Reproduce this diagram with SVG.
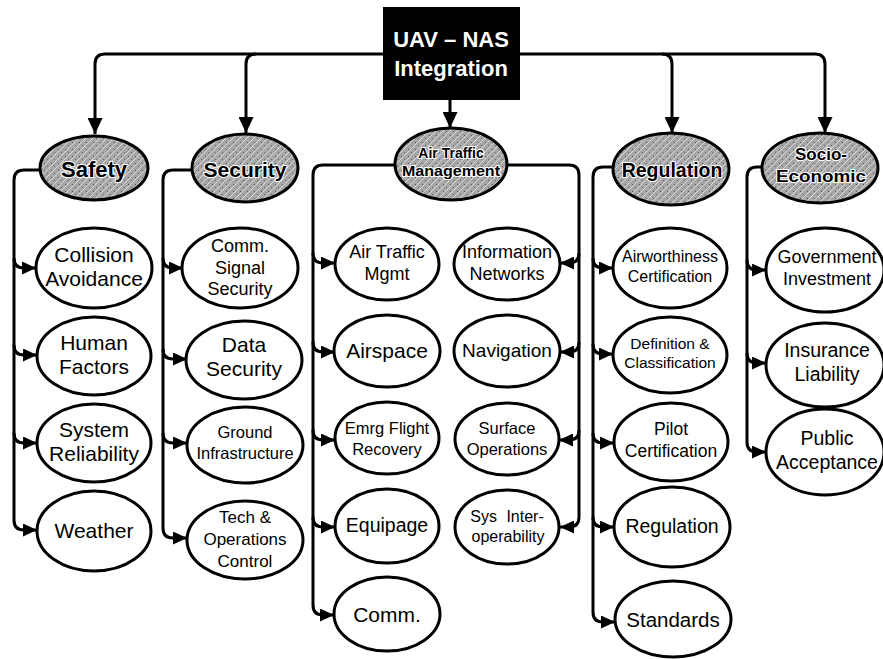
<svg xmlns="http://www.w3.org/2000/svg" width="883" height="659" viewBox="0 0 883 659">
<style>
.n{fill:#fff;stroke:#000;stroke-width:3}
.c{fill:url(#tex);stroke:#000;stroke-width:3}
.t{font-family:"Liberation Sans",Arial,sans-serif;fill:#000;text-anchor:middle}
.ct{font-family:"Liberation Sans",Arial,sans-serif;font-weight:bold;fill:#000;text-anchor:middle;stroke:#fff;stroke-width:2.2;paint-order:stroke;stroke-linejoin:round}
.w{font-family:"Liberation Sans",Arial,sans-serif;font-weight:bold;fill:#fff;text-anchor:middle;font-size:22px}
.l{fill:none;stroke:#000;stroke-width:3}
</style>
<defs>
<pattern id="tex" width="7" height="7" patternUnits="userSpaceOnUse">
<rect width="7" height="7" fill="#a6a6a6"/>
<path d="M0,7 L7,0" stroke="#d9d9d9" stroke-width="1"/>
<rect x="2" y="2" width="1" height="1" fill="#555"/>
<rect x="5" y="5" width="1" height="1" fill="#666"/>
</pattern>
<marker id="a" viewBox="0 0 14 13" refX="14" refY="6.5" markerWidth="14" markerHeight="13" markerUnits="userSpaceOnUse" orient="auto">
<path d="M0,0 L14,6.5 L0,13 z" fill="#000"/>
</marker>
<marker id="b" viewBox="0 0 16 15" refX="16" refY="7.5" markerWidth="16" markerHeight="15" markerUnits="userSpaceOnUse" orient="auto">
<path d="M0,0 L16,7.5 L0,15 z" fill="#000"/>
</marker>
</defs>

<g id="connectors">
<path class="l" d="M383,54 H105 Q95,54 95,64 V134" marker-end="url(#b)"/>
<path class="l" d="M256,54 Q246,54 246,64 V133" marker-end="url(#b)"/>
<path class="l" d="M450,100 V128" marker-end="url(#b)"/>
<path class="l" d="M520,54 H815 Q825,54 825,64 V133" marker-end="url(#b)"/>
<path class="l" d="M662,54 Q672,54 672,64 V133" marker-end="url(#b)"/>
<path class="l" d="M40,170 H24 Q14,170 14,180 V520 Q14,530 24,530 H37" marker-end="url(#a)"/>
<path class="l" d="M14,258 Q14,268 24,268 H36" marker-end="url(#a)"/>
<path class="l" d="M14,345 Q14,355 24,355 H37" marker-end="url(#a)"/>
<path class="l" d="M14,433 Q14,443 24,443 H37" marker-end="url(#a)"/>
<path class="l" d="M191,170 H173 Q163,170 163,180 V528 Q163,538 173,538 H187" marker-end="url(#a)"/>
<path class="l" d="M163,258 Q163,268 173,268 H183" marker-end="url(#a)"/>
<path class="l" d="M163,349 Q163,359 173,359 H187" marker-end="url(#a)"/>
<path class="l" d="M163,433 Q163,443 173,443 H187" marker-end="url(#a)"/>
<path class="l" d="M395,165 H323 Q313,165 313,175 V605 Q313,615 323,615 H334" marker-end="url(#a)"/>
<path class="l" d="M313,253 Q313,263 323,263 H335" marker-end="url(#a)"/>
<path class="l" d="M313,342 Q313,352 323,352 H335" marker-end="url(#a)"/>
<path class="l" d="M313,430 Q313,440 323,440 H335" marker-end="url(#a)"/>
<path class="l" d="M313,517 Q313,527 323,527 H335" marker-end="url(#a)"/>
<path class="l" d="M507,165 H569 Q579,165 579,175 V517 Q579,527 569,527 H560" marker-end="url(#a)"/>
<path class="l" d="M579,253 Q579,263 569,263 H560" marker-end="url(#a)"/>
<path class="l" d="M579,342 Q579,352 569,352 H560" marker-end="url(#a)"/>
<path class="l" d="M579,430 Q579,440 569,440 H559" marker-end="url(#a)"/>
<path class="l" d="M614,167 H603 Q593,167 593,177 V612 Q593,622 603,622 H615" marker-end="url(#a)"/>
<path class="l" d="M593,258 Q593,268 603,268 H613" marker-end="url(#a)"/>
<path class="l" d="M593,344 Q593,354 603,354 H613" marker-end="url(#a)"/>
<path class="l" d="M593,433 Q593,443 603,443 H614" marker-end="url(#a)"/>
<path class="l" d="M593,517 Q593,527 603,527 H614" marker-end="url(#a)"/>
<path class="l" d="M763,167 H757 Q747,167 747,177 V442 Q747,452 757,452 H766" marker-end="url(#a)"/>
<path class="l" d="M747,260 Q747,270 757,270 H766" marker-end="url(#a)"/>
<path class="l" d="M747,353 Q747,363 757,363 H766" marker-end="url(#a)"/>
</g>

<g id="root">
<rect x="383" y="7" width="137" height="93" fill="#000"/>
<text class="w" x="451" y="47">UAV – NAS</text>
<text class="w" x="451" y="76">Integration</text>
</g>

<g id="safety">
<ellipse class="c" cx="94" cy="168" rx="54" ry="32"/>
<text class="ct" x="94" y="177" font-size="22">Safety</text>
</g>
<g id="security">
<ellipse class="c" cx="245" cy="168" rx="53" ry="34"/>
<text class="ct" x="245" y="177" font-size="21">Security</text>
</g>
<g id="atm">
<ellipse class="c" cx="451" cy="164" rx="56" ry="36"/>
<text class="ct" x="451" y="158" font-size="14">Air Traffic</text>
<text class="ct" x="451" y="176" font-size="14" textLength="98" lengthAdjust="spacingAndGlyphs">Management</text>
</g>
<g id="regulation">
<ellipse class="c" cx="671" cy="169" rx="58" ry="36"/>
<text class="ct" x="672" y="177" font-size="19.5">Regulation</text>
</g>
<g id="socio">
<ellipse class="c" cx="820" cy="168" rx="58" ry="35"/>
<text class="ct" x="821" y="160" font-size="17">Socio-</text>
<text class="ct" x="821" y="182" font-size="17" textLength="90" lengthAdjust="spacingAndGlyphs">Economic</text>
</g>

<g id="collision">
<ellipse class="n" cx="94" cy="268" rx="58" ry="40"/>
<text class="t" font-size="21"><tspan x="94" y="262">Collision</tspan><tspan x="94" y="286">Avoidance</tspan></text>
</g>
<g id="human">
<ellipse class="n" cx="94" cy="356" rx="57" ry="39"/>
<text class="t" font-size="21"><tspan x="94" y="350">Human</tspan><tspan x="94" y="374">Factors</tspan></text>
</g>
<g id="system">
<ellipse class="n" cx="94" cy="443" rx="57" ry="39"/>
<text class="t" font-size="21"><tspan x="94" y="437">System</tspan><tspan x="94" y="461">Reliability</tspan></text>
</g>
<g id="weather">
<ellipse class="n" cx="94" cy="531" rx="57" ry="40"/>
<text class="t" font-size="21" x="94" y="538">Weather</text>
</g>

<g id="comm-signal">
<ellipse class="n" cx="240" cy="268" rx="58" ry="40"/>
<text class="t" font-size="18"><tspan x="240" y="252">Comm.</tspan><tspan x="240" y="274">Signal</tspan><tspan x="240" y="295">Security</tspan></text>
</g>
<g id="data">
<ellipse class="n" cx="244" cy="360" rx="58" ry="39"/>
<text class="t" font-size="21"><tspan x="244" y="352">Data</tspan><tspan x="244" y="376">Security</tspan></text>
</g>
<g id="ground">
<ellipse class="n" cx="245" cy="445" rx="58" ry="38"/>
<text class="t" font-size="16.5"><tspan x="245" y="438">Ground</tspan><tspan x="245" y="459">Infrastructure</tspan></text>
</g>
<g id="tech">
<ellipse class="n" cx="245" cy="540" rx="58" ry="39"/>
<text class="t" font-size="17"><tspan x="245" y="523">Tech &amp;</tspan><tspan x="245" y="545">Operations</tspan><tspan x="245" y="567">Control</tspan></text>
</g>

<g id="atmgmt">
<ellipse class="n" cx="387" cy="264" rx="52" ry="36"/>
<text class="t" font-size="18"><tspan x="387" y="258">Air Traffic</tspan><tspan x="387" y="280">Mgmt</tspan></text>
</g>
<g id="airspace">
<ellipse class="n" cx="387" cy="351" rx="53" ry="36"/>
<text class="t" font-size="21" x="387" y="358">Airspace</text>
</g>
<g id="emrg">
<ellipse class="n" cx="387" cy="438" rx="52" ry="36"/>
<text class="t" font-size="16.5"><tspan x="387" y="434">Emrg Flight</tspan><tspan x="387" y="455">Recovery</tspan></text>
</g>
<g id="equipage">
<ellipse class="n" cx="387" cy="526" rx="52" ry="37"/>
<text class="t" font-size="19.5" x="387" y="532">Equipage</text>
</g>
<g id="comm">
<ellipse class="n" cx="387" cy="614" rx="53" ry="37"/>
<text class="t" font-size="21" x="387" y="622">Comm.</text>
</g>

<g id="info">
<ellipse class="n" cx="507" cy="264" rx="53" ry="36"/>
<text class="t" font-size="18"><tspan x="507" y="258">Information</tspan><tspan x="507" y="280">Networks</tspan></text>
</g>
<g id="navigation">
<ellipse class="n" cx="507" cy="351" rx="53" ry="36"/>
<text class="t" font-size="19" x="507" y="357">Navigation</text>
</g>
<g id="surface">
<ellipse class="n" cx="507" cy="439" rx="52" ry="36"/>
<text class="t" font-size="16.5"><tspan x="507" y="434">Surface</tspan><tspan x="507" y="455">Operations</tspan></text>
</g>
<g id="sysinter">
<ellipse class="n" cx="507" cy="527" rx="52" ry="37"/>
<text class="t" font-size="16"><tspan x="507" y="522" word-spacing="5">Sys Inter-</tspan><tspan x="508" y="542">operability</tspan></text>
</g>

<g id="airworthiness">
<ellipse class="n" cx="670" cy="268" rx="57" ry="40"/>
<text class="t" font-size="16"><tspan x="670" y="262">Airworthiness</tspan><tspan x="670" y="282">Certification</tspan></text>
</g>
<g id="definition">
<ellipse class="n" cx="670" cy="355" rx="57" ry="38"/>
<text class="t" font-size="15.5"><tspan x="670" y="349">Definition &amp;</tspan><tspan x="670" y="368">Classification</tspan></text>
</g>
<g id="pilot">
<ellipse class="n" cx="671" cy="442" rx="57" ry="39"/>
<text class="t" font-size="17.5"><tspan x="671" y="435">Pilot</tspan><tspan x="671" y="457">Certification</tspan></text>
</g>
<g id="regulation2">
<ellipse class="n" cx="672" cy="527" rx="58" ry="40"/>
<text class="t" font-size="19.5" x="672" y="533">Regulation</text>
</g>
<g id="standards">
<ellipse class="n" cx="673" cy="619" rx="58" ry="38"/>
<text class="t" font-size="20.5" x="673" y="627">Standards</text>
</g>

<g id="government">
<ellipse class="n" cx="825" cy="270" rx="59" ry="42"/>
<text class="t" font-size="18"><tspan x="827" y="263">Government</tspan><tspan x="827" y="285">Investment</tspan></text>
</g>
<g id="insurance">
<ellipse class="n" cx="825" cy="365" rx="59" ry="42"/>
<text class="t" font-size="19.5"><tspan x="827" y="357">Insurance</tspan><tspan x="827" y="381">Liability</tspan></text>
</g>
<g id="public">
<ellipse class="n" cx="825" cy="452" rx="59" ry="43"/>
<text class="t" font-size="19.5"><tspan x="827" y="445">Public</tspan><tspan x="827" y="469">Acceptance</tspan></text>
</g>
</svg>
